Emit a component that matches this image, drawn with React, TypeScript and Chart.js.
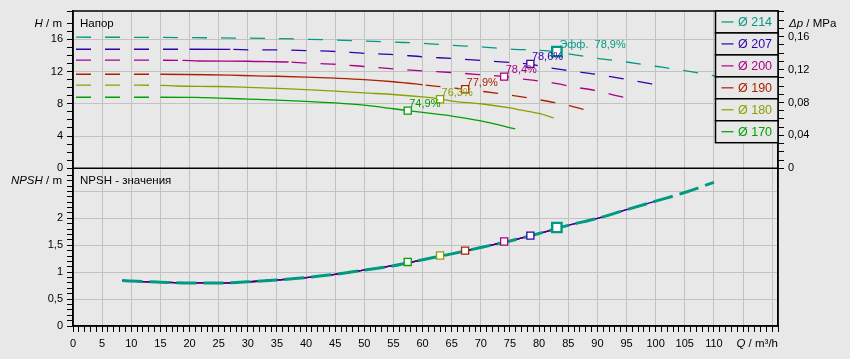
import React, { useEffect, useRef } from 'react';
import { Chart, registerables } from 'chart.js';

Chart.register(...registerables);

const FONT = '"Liberation Sans", Arial, sans-serif';
const BG = '#e8e8e8';
const GRID = '#c2c2c2';

// Impeller diameters (legend order) and colours
const diameters = ['214', '207', '200', '190', '180', '170'];
const curveColors = ['#009a80', '#3300aa', '#aa0088', '#aa2200', '#8aa000', '#00a000'];

// H–Q curves: Q in m³/h, H in m
const q214 = [0, 10, 20, 30, 35, 40, 45, 50, 55, 60, 65, 70, 75, 80, 83, 85, 90, 95, 100, 105, 110, 112];
const h214 = [16.25, 16.24, 16.2, 16.13, 16.08, 16.0, 15.9, 15.78, 15.64, 15.5, 15.25, 15.05, 14.78, 14.62, 14.44, 14.2, 13.64, 13.18, 12.65, 12.1, 11.47, 11.2];

const q207 = [0, 10, 20, 27, 31, 35, 40, 45, 50, 55, 60, 65, 70, 75, 78.5, 80, 85, 90, 95, 101.1];
const h207 = [14.76, 14.76, 14.76, 14.75, 14.68, 14.67, 14.6, 14.48, 14.25, 14.1, 13.82, 13.62, 13.38, 13.12, 12.9, 12.68, 12.12, 11.62, 11.02, 10.22];

const q200 = [0, 10, 18.8, 21.6, 30, 33.3, 37, 40, 45, 50, 55, 60, 65, 70, 74, 77, 82, 86, 90, 93, 95.7];
const h200 = [13.4, 13.4, 13.38, 13.3, 13.27, 13.22, 13.18, 13.05, 12.9, 12.62, 12.33, 12.08, 11.87, 11.6, 11.37, 11.08, 10.63, 10.08, 9.6, 9.05, 8.64];

const q190 = [0, 10, 15, 23, 27, 31.4, 35, 40, 45, 50, 55, 60, 65, 67.3, 70, 75, 80, 85, 88.2];
const h190 = [11.66, 11.66, 11.66, 11.6, 11.54, 11.46, 11.41, 11.3, 11.17, 11.0, 10.73, 10.36, 9.97, 9.8, 9.56, 9.08, 8.5, 7.8, 7.2];

const q180 = [0, 10, 15, 17.8, 25, 30, 35, 40, 45, 50, 55, 60, 63, 65, 70, 75, 77, 80, 82.5];
const h180 = [10.3, 10.3, 10.28, 10.2, 10.14, 10.03, 9.9, 9.76, 9.57, 9.35, 9.15, 8.85, 8.6, 8.34, 8.0, 7.48, 7.2, 6.8, 6.25];

const q170 = [0, 10, 15, 21, 25, 30, 35, 40, 45, 50, 55, 57.45, 60, 65, 70, 75.9];
const h170 = [8.81, 8.81, 8.81, 8.78, 8.7, 8.58, 8.46, 8.3, 8.1, 7.82, 7.38, 7.15, 6.92, 6.48, 5.88, 4.88];

// NPSH curve (m) and the flow where each diameter's curve ends
const npshQ = [8.5, 10, 15, 20, 25, 30, 35, 40, 45, 50, 55, 60, 65, 70, 75, 80, 85, 90, 95, 100, 105, 110];
const npshV = [0.845, 0.835, 0.815, 0.8, 0.8, 0.82, 0.855, 0.9, 0.96, 1.04, 1.12, 1.23, 1.34, 1.46, 1.58, 1.72, 1.87, 2.0, 2.16, 2.32, 2.48, 2.67];
const qEnd = [110, 101.1, 95.7, 88.2, 82.5, 75.9];

// Best-efficiency points
const effQ = [83.05, 78.5, 74.0, 67.3, 63.0, 57.45];
const effH = [14.47, 12.94, 11.37, 9.8, 8.56, 7.15];
const effNpsh = [1.83, 1.68, 1.57, 1.4, 1.31, 1.19];
const effLabels = ['Эфф.  78,9%', '78,6%', '78,4%', '77,9%', '76,3%', '74,9%'];

// Range of each H curve drawn solid (rest dashed)
const solidRanges: (number[] | null)[] = [null, [20, 27], [18.8, 37], [15, 60], [15, 999], [15, 999]];

const curvesQ = [q214, q207, q200, q190, q180, q170];
const curvesH = [h214, h207, h200, h190, h180, h170];

function drawParts(ctx: CanvasRenderingContext2D, parts: [string, boolean][], x: number, y: number, align: 'left' | 'right', size: number, color: string) {
  ctx.textBaseline = 'middle';
  ctx.textAlign = 'left';
  const fonts = parts.map(([, it]) => `${it ? 'italic ' : ''}${size}px ${FONT}`);
  const widths = parts.map(([t], i) => { ctx.font = fonts[i]; return ctx.measureText(t).width; });
  let cx = align === 'left' ? x : x - widths.reduce((a, b) => a + b, 0);
  parts.forEach(([t], i) => {
    ctx.font = fonts[i];
    ctx.fillStyle = color;
    ctx.fillText(t, cx, y);
    cx += widths[i];
  });
}

const overlay = {
  id: 'overlay',
  afterDraw(chart: any) {
    const { ctx, chartArea: ca, scales } = chart;
    const hs = scales.h;
    const xs = scales.x;
    ctx.save();

    // efficiency labels
    effQ.forEach((q, i) => {
      const px = xs.getPixelForValue(q);
      const py = hs.getPixelForValue(effH[i]);
      ctx.font = `11px ${FONT}`;
      ctx.fillStyle = curveColors[i];
      ctx.textAlign = 'left';
      ctx.textBaseline = 'alphabetic';
      ctx.fillText(effLabels[i], px + (i === 0 ? 2.5 : 1.5), py - 3.5);
    });

    // frame and separator
    ctx.strokeStyle = '#000';
    ctx.lineWidth = 1.5;
    ctx.strokeRect(ca.left, ca.top, ca.right - ca.left, ca.bottom - ca.top);
    ctx.beginPath();
    ctx.moveTo(ca.left, hs.bottom);
    ctx.lineTo(ca.right, hs.bottom);
    ctx.stroke();

    // legend
    const lx = ca.right - 62.5;
    const rh = 21.95;
    diameters.forEach((d, i) => {
      const ty = ca.top + i * rh;
      ctx.fillStyle = BG;
      ctx.fillRect(lx, ty, ca.right - lx, rh);
      ctx.strokeStyle = '#000';
      ctx.lineWidth = 1.5;
      ctx.strokeRect(lx, ty, ca.right - lx, rh);
      ctx.strokeStyle = curveColors[i];
      ctx.lineWidth = 1.2;
      ctx.beginPath();
      ctx.moveTo(lx + 6, ty + rh / 2);
      ctx.lineTo(lx + 18, ty + rh / 2);
      ctx.stroke();
      ctx.font = `12.5px ${FONT}`;
      ctx.fillStyle = curveColors[i];
      ctx.textAlign = 'left';
      ctx.textBaseline = 'middle';
      ctx.fillText('Ø ' + d, lx + 22.5, ty + rh / 2 + 0.5);
    });

    // titles
    drawParts(ctx, [['H', true], [' / m', false]], ca.left - 11, ca.top + 13, 'right', 11.5, '#000');
    drawParts(ctx, [['Напор', false]], ca.left + 7, ca.top + 13, 'left', 11.5, '#000');
    drawParts(ctx, [['Δp', true], [' / MPa', false]], ca.right + 11, ca.top + 13, 'left', 11.5, '#000');
    drawParts(ctx, [['NPSH', true], [' / m', false]], ca.left - 11, hs.bottom + 12.5, 'right', 11.5, '#000');
    drawParts(ctx, [['NPSH - значения', false]], ca.left + 7, hs.bottom + 12.5, 'left', 11.5, '#000');
    drawParts(ctx, [['Q', true], [' / m³/h', false]], ca.right, ca.bottom + 18, 'right', 11.5, '#000');
    ctx.restore();
  },
};

export default function App() {
  const ref = useRef<HTMLCanvasElement>(null);

  useEffect(() => {
    const canvas = ref.current;
    if (!canvas) return;
    Chart.defaults.font.family = FONT;

    const datasets: any[] = [];

    // efficiency markers (top)
    datasets.push({
      label: 'eff-H',
      data: effQ.map((q, i) => ({ x: q, y: effH[i] })),
      xAxisID: 'x', yAxisID: 'h',
      showLine: false,
      pointStyle: 'rect',
      pointRadius: effQ.map((_, i) => (i === 0 ? 6.6 : 5)),
      pointBorderWidth: effQ.map((_, i) => (i === 0 ? 2.4 : 1.3)),
      pointBorderColor: curveColors,
      pointBackgroundColor: '#ffffff',
      order: 0,
    });
    // efficiency markers (NPSH)
    datasets.push({
      label: 'eff-NPSH',
      data: effQ.map((q, i) => ({ x: q, y: effNpsh[i] })),
      xAxisID: 'x', yAxisID: 'npsh',
      showLine: false,
      pointStyle: 'rect',
      pointRadius: effQ.map((_, i) => (i === 0 ? 6.6 : 5)),
      pointBorderWidth: effQ.map((_, i) => (i === 0 ? 2.4 : 1.3)),
      pointBorderColor: curveColors,
      pointBackgroundColor: '#ffffff',
      order: 0,
    });

    // H curves
    curvesQ.forEach((qs, i) => {
      const range = solidRanges[i];
      datasets.push({
        label: 'H ' + diameters[i],
        data: qs.map((q, k) => ({ x: q, y: curvesH[i][k] })),
        xAxisID: 'x', yAxisID: 'h',
        borderColor: curveColors[i],
        borderWidth: 1.3,
        pointRadius: 0,
        cubicInterpolationMode: 'monotone',
        borderDash: [15, 14],
        borderDashOffset: 26,
        segment: {
          borderDash: (c: any) => {
            if (!range) return undefined;
            const a = c.p0.parsed.x, b = c.p1.parsed.x;
            return a >= range[0] - 1e-6 && b <= range[1] + 1e-6 ? [] : undefined;
          },
        },
        order: 2 + i,
      });
    });

    // thin NPSH curves for the smaller diameters
    for (let i = curvesQ.length - 1; i >= 1; i--) {
      const pts = npshQ.map((q, k) => ({ x: q, y: npshV[k] })).filter((p) => p.x <= qEnd[i]);
      datasets.push({
        label: 'NPSH ' + diameters[i],
        data: pts,
        xAxisID: 'x', yAxisID: 'npsh',
        borderColor: curveColors[i],
        borderWidth: 1.3,
        pointRadius: 0,
        cubicInterpolationMode: 'monotone',
        order: 10 + i,
      });
    }
    // thick NPSH curve for 214
    datasets.push({
      label: 'NPSH 214',
      data: npshQ.map((q, k) => ({ x: q, y: npshV[k] })).filter((p) => p.x <= qEnd[0]),
      xAxisID: 'x', yAxisID: 'npsh',
      borderColor: curveColors[0],
      borderWidth: 3,
      borderDash: [20, 7],
      pointRadius: 0,
      cubicInterpolationMode: 'monotone',
      order: 1,
    });

    const tickFont = { family: FONT, size: 11 };
    const near = (v: number, step: number) => Math.abs(v / step - Math.round(v / step)) < 1e-6;

    const chart = new Chart(canvas, {
      type: 'line',
      data: { datasets },
      plugins: [overlay],
      options: {
        animation: false,
        responsive: false,
        layout: { padding: { top: 11, left: 0, right: 0, bottom: 0 } },
        plugins: { legend: { display: false }, tooltip: { enabled: false } },
        scales: {
          x: {
            type: 'linear',
            position: 'bottom',
            min: 0,
            max: 121,
            afterFit: (s: any) => { s.height = 33; },
            ticks: {
              stepSize: 1,
              autoSkip: false,
              maxRotation: 0,
              padding: 5,
              color: '#000',
              font: tickFont,
              callback: (v: any) => (near(v, 5) && v <= 110 ? String(Math.round(v)) : ''),
            },
            grid: {
              color: (c: any) => (c.tick && near(c.tick.value, 5) ? GRID : 'transparent'),
              tickColor: '#000',
              tickLength: 6,
              lineWidth: 1,
            },
            border: { color: '#000', width: 1.5 },
          },
          npsh: {
            type: 'linear',
            position: 'left',
            stack: 'left',
            stackWeight: 157.7,
            min: 0,
            max: 2.93,
            afterFit: (s: any) => { s.width = 73; },
            ticks: {
              stepSize: 0.1,
              autoSkip: false,
              padding: 4,
              color: '#000',
              font: tickFont,
              callback: (v: any) => {
                const r = Math.round(v * 10);
                if (!near(v, 0.5) || r > 20) return '';
                return String(r / 10).replace('.', ',');
              },
            },
            grid: {
              color: (c: any) => (c.tick && near(c.tick.value, 0.5) && c.tick.value > 0.01 ? GRID : 'transparent'),
              tickColor: '#000',
              tickLength: 6,
            },
            border: { color: '#000', width: 1.5 },
          },
          h: {
            type: 'linear',
            position: 'left',
            stack: 'left',
            stackWeight: 157.3,
            min: 0,
            max: 19.5,
            afterFit: (s: any) => { s.width = 73; },
            ticks: {
              stepSize: 1,
              autoSkip: false,
              padding: 4,
              color: '#000',
              font: tickFont,
              callback: (v: any) => (near(v, 4) && v <= 16 ? String(Math.round(v)) : ''),
            },
            grid: {
              color: (c: any) => (c.tick && near(c.tick.value, 4) && c.tick.value > 0.01 ? GRID : 'transparent'),
              tickColor: '#000',
              tickLength: 6,
            },
            border: { color: '#000', width: 1.5 },
          },
          dp: {
            type: 'linear',
            position: 'right',
            stack: 'right',
            stackWeight: 157.3,
            min: 0,
            max: 0.1912,
            afterFit: (s: any) => { s.width = 72; },
            ticks: {
              stepSize: 0.01,
              autoSkip: false,
              padding: 4,
              color: '#000',
              font: tickFont,
              callback: (v: any) => {
                const r = Math.round(v * 100);
                if (!near(v, 0.04) || r > 16) return '';
                return r === 0 ? '0' : (r / 100).toFixed(2).replace('.', ',');
              },
            },
            grid: { drawOnChartArea: false, tickColor: '#000', tickLength: 6 },
            border: { color: '#000', width: 1.5 },
          },
          rdummy: {
            type: 'linear',
            position: 'right',
            stack: 'right',
            stackWeight: 157.7,
            min: 0,
            max: 1,
            afterFit: (s: any) => { s.width = 72; },
            ticks: { display: false },
            grid: { display: false },
            border: { color: '#000', width: 1.5 },
          },
        },
      } as any,
    });

    return () => chart.destroy();
  }, []);

  return (
    <div style={{ position: 'fixed', left: 0, top: 0, width: 850, height: 359, background: BG }}>
      <canvas ref={ref} width={850} height={359} style={{ display: 'block' }} />
    </div>
  );
}
